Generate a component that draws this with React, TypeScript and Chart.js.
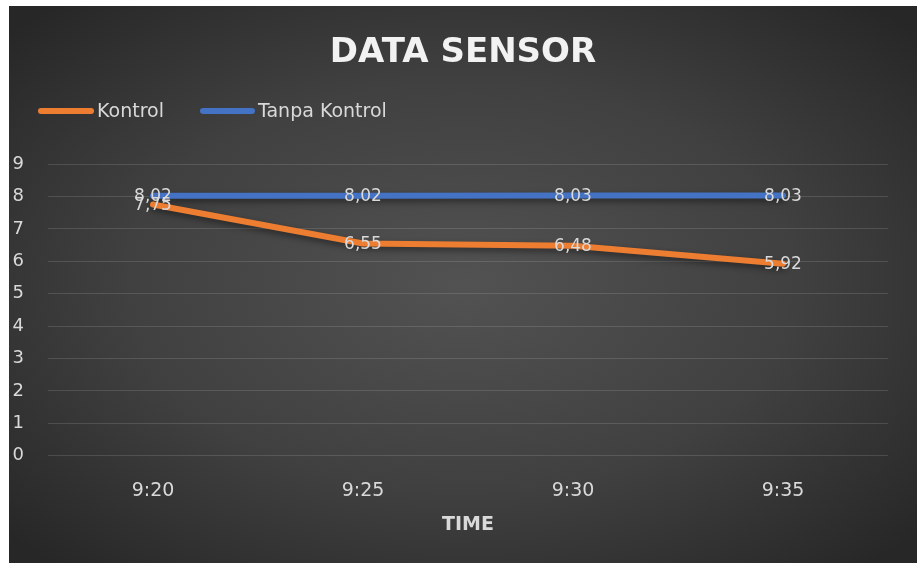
import React, { useEffect, useRef } from "react";
import { Chart, registerables } from "chart.js";

Chart.register(...registerables);

const categories = ["9:20", "9:25", "9:30", "9:35"];
const kontrol = [7.75, 6.55, 6.48, 5.92];
const tanpaKontrol = [8.02, 8.02, 8.03, 8.03];
const yTicks = [0, 1, 2, 3, 4, 5, 6, 7, 8, 9];

const FONT = "'DejaVu Sans', sans-serif";
const TEXT = "#d9d9d9";

const bgPlugin = {
  id: "bgGradient",
  beforeDraw(chart: any) {
    const { ctx, width, height } = chart;
    ctx.save();
    ctx.translate(width / 2, height / 2);
    ctx.scale(width / 2, height / 2);
    const g = ctx.createRadialGradient(0, 0, 0, 0, 0, 1.35);
    g.addColorStop(0, "#525252");
    g.addColorStop(0.55, "#404040");
    g.addColorStop(1, "#272727");
    ctx.fillStyle = g;
    ctx.fillRect(-1, -1, 2, 2);
    ctx.restore();
  },
};

const shadowPlugin = {
  id: "lineShadow",
  beforeDatasetDraw(chart: any) {
    const ctx = chart.ctx;
    ctx.save();
    ctx.shadowColor = "rgba(0,0,0,0.45)";
    ctx.shadowBlur = 6;
    ctx.shadowOffsetY = 3;
  },
  afterDatasetDraw(chart: any) {
    chart.ctx.restore();
  },
};

const labelsPlugin = {
  id: "valueLabels",
  afterDatasetsDraw(chart: any) {
    const ctx = chart.ctx;
    ctx.save();
    ctx.font = `17px ${FONT}`;
    ctx.fillStyle = TEXT;
    ctx.textAlign = "center";
    ctx.textBaseline = "middle";
    chart.data.datasets.forEach((ds: any, i: number) => {
      const meta = chart.getDatasetMeta(i);
      meta.data.forEach((pt: any, j: number) => {
        const v = ds.data[j] as number;
        ctx.fillText(v.toFixed(2).replace(".", ","), pt.x, pt.y + 1);
      });
    });
    ctx.restore();
  },
};

const legendPlugin = {
  id: "customLegend",
  afterDraw(chart: any) {
    const ctx = chart.ctx;
    const y = 105;
    const items = [
      { x: 29, w: 56, tx: 88 },
      { x: 191, w: 55, tx: 249 },
    ];
    ctx.save();
    ctx.font = `19px ${FONT}`;
    ctx.textBaseline = "middle";
    ctx.textAlign = "left";
    chart.data.datasets.forEach((ds: any, i: number) => {
      const it = items[i];
      ctx.strokeStyle = ds.borderColor;
      ctx.lineWidth = 6;
      ctx.lineCap = "round";
      ctx.beginPath();
      ctx.moveTo(it.x + 3, y);
      ctx.lineTo(it.x + it.w - 3, y);
      ctx.stroke();
      ctx.fillStyle = TEXT;
      ctx.fillText(ds.label, it.tx, y + 1);
    });
    ctx.restore();
  },
};

export default function App() {
  const ref = useRef<HTMLCanvasElement>(null);
  useEffect(() => {
    if (!ref.current) return;
    const chart = new Chart(ref.current, {
      type: "line",
      data: {
        labels: categories,
        datasets: [
          {
            label: "Kontrol",
            data: kontrol,
            borderColor: "#ED7D31",
            backgroundColor: "#ED7D31",
            borderWidth: 6,
            pointRadius: 0,
            borderCapStyle: "round",
            borderJoinStyle: "round",
            tension: 0,
          },
          {
            label: "Tanpa Kontrol",
            data: tanpaKontrol,
            borderColor: "#4472C4",
            backgroundColor: "#4472C4",
            borderWidth: 6,
            pointRadius: 0,
            borderCapStyle: "round",
            borderJoinStyle: "round",
            tension: 0,
          },
        ],
      },
      options: {
        animation: false,
        responsive: false,
        maintainAspectRatio: false,
        clip: false as any,
        layout: { padding: { left: 0, right: 0, top: 0, bottom: 26.6 } },
        plugins: {
          legend: { display: false },
          tooltip: { enabled: false },
          title: {
            display: true,
            text: "DATA SENSOR",
            color: "#f2f2f2",
            font: { family: FONT, size: 34, weight: "bold" },
            padding: { top: 26.6, bottom: 90.6 },
          },
        },
        scales: {
          x: {
            offset: true,
            grid: { display: false, drawTicks: false },
            border: { display: false },
            afterFit: (s: any) => {
              s.height = 80.6;
            },
            ticks: { color: TEXT, font: { family: FONT, size: 19 }, padding: 24, maxRotation: 0 },
            title: {
              display: true,
              text: "TIME",
              color: TEXT,
              font: { family: FONT, size: 19, weight: "bold" },
              padding: { top: 11, bottom: 0 },
            },
          },
          y: {
            min: 0,
            max: 9,
            afterFit: (s: any) => {
              s.width = 39;
            },
            afterBuildTicks: (s: any) => {
              s.ticks = yTicks.map((v) => ({ value: v }));
            },
            grid: { color: "rgba(255,255,255,0.13)", lineWidth: 1, drawTicks: false },
            border: { display: false },
            ticks: { color: TEXT, font: { family: FONT, size: 18 }, padding: 24, stepSize: 1 },
          },
          yRight: {
            position: "right",
            display: true,
            grid: { display: false, drawTicks: false },
            border: { display: false },
            ticks: { display: false },
            afterFit: (s: any) => {
              s.width = 29;
            },
          },
        },
      },
      plugins: [bgPlugin, shadowPlugin, labelsPlugin, legendPlugin],
    });
    return () => chart.destroy();
  }, []);
  return (
    <div style={{ position: "fixed", left: 0, top: 0, width: 917, height: 563, background: "#ffffff" }}>
      <canvas
        ref={ref}
        width={908}
        height={557}
        style={{ position: "absolute", left: 9, top: 6, width: 908, height: 557 }}
      />
    </div>
  );
}
